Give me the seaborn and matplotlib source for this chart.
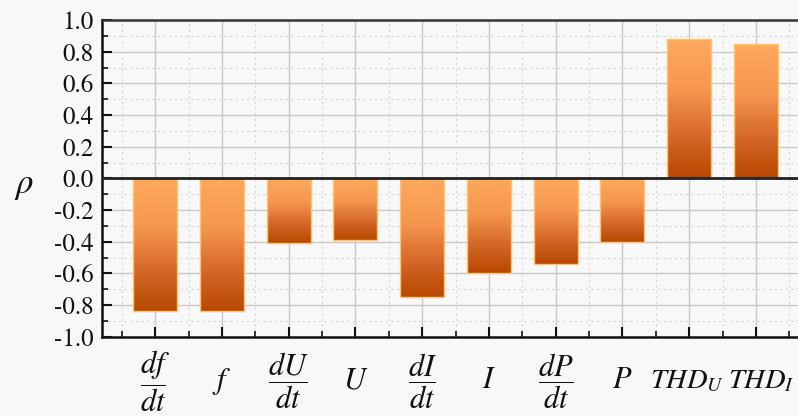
import numpy as np
import pandas as pd
import matplotlib
matplotlib.use('Agg')
import matplotlib.pyplot as plt
import matplotlib.transforms as mtransforms
import seaborn as sns
from matplotlib.colors import LinearSegmentedColormap
from matplotlib.ticker import MultipleLocator, FixedLocator

categories = ['df/dt', 'f', 'dU/dt', 'U', 'dI/dt', 'I', 'dP/dt', 'P', 'THD_U', 'THD_I']
tick_labels = [r'$\dfrac{df}{dt}$', r'$f$', r'$\dfrac{dU}{dt}$', r'$U$',
               r'$\dfrac{dI}{dt}$', r'$I$', r'$\dfrac{dP}{dt}$', r'$P$',
               r'$THD_U$', r'$THD_I$']
rho = [-0.84, -0.84, -0.41, -0.39, -0.75, -0.60, -0.54, -0.40, 0.88, 0.85]
y_ticks = [-1.0, -0.8, -0.6, -0.4, -0.2, 0.0, 0.2, 0.4, 0.6, 0.8, 1.0]

df = pd.DataFrame({'param': categories, 'rho': rho})

sns.set_theme(style='white')
plt.rcParams['mathtext.fontset'] = 'stix'
plt.rcParams['font.family'] = ['STIXGeneral', 'Liberation Serif', 'DejaVu Serif']

bg = '#f8f8f8'
fig = plt.figure(figsize=(7.98, 4.16), dpi=100, facecolor=bg)
ax = fig.add_axes([0.1275, 0.1906, 0.8725, 0.7613])
ax.set_facecolor(bg)

sns.barplot(data=df, x='param', y='rho', order=categories, width=0.66,
            color='#ffa860', edgecolor='#ffc46a', linewidth=1.0, ax=ax, zorder=3)

cmap = LinearSegmentedColormap.from_list(
    'grad', [(0.0, '#b84800'), (0.3, '#d4672a'), (0.62, '#f5964f'), (1.0, '#ffa95f')])
grad = np.linspace(0, 1, 256).reshape(-1, 1)
for p in list(ax.patches):
    x0, y0 = p.get_x(), p.get_y()
    w, h = p.get_width(), p.get_height()
    ylo, yhi = min(y0, y0 + h), max(y0, y0 + h)
    im = ax.imshow(grad, cmap=cmap, origin='lower', aspect='auto',
                   extent=(x0, x0 + w, ylo, yhi), zorder=3, interpolation='bicubic')
    im.set_clip_path(p)
    p.set_facecolor('none')
    p.set_zorder(4)

ax.set_xlim(-0.8, 9.63)
ax.set_ylim(-1.0, 1.0)
ax.set_aspect('auto')

ax.yaxis.set_major_locator(FixedLocator(y_ticks))
ax.yaxis.set_minor_locator(MultipleLocator(0.1))
ax.xaxis.set_minor_locator(FixedLocator(np.arange(-0.5, 10, 1.0)))
ax.set_yticks(y_ticks)
ax.set_yticklabels([f'{v:.1f}' for v in y_ticks])
ax.set_xticks(range(len(categories)))
ax.set_xticklabels(tick_labels)

ax.grid(which='major', color='#c9c9c9', lw=1.0, ls='-', zorder=0)
ax.grid(which='minor', color='#d4d4d4', lw=0.8, ls=(0, (2, 3)), zorder=0)
ax.set_axisbelow(True)

ax.axhline(0, color='#222222', lw=2.0, zorder=5)

ax.tick_params(axis='y', which='major', direction='in', length=7, width=1.5,
               color='#111111', labelsize=18, pad=6, left=True, labelcolor='#111111')
ax.tick_params(axis='y', which='minor', direction='in', length=4, width=1.2,
               color='#111111', left=True)
ax.tick_params(axis='x', which='major', direction='in', length=7, width=1.5,
               color='#111111', labelsize=22, pad=32, bottom=True, labelcolor='#111111')
ax.tick_params(axis='x', which='minor', direction='in', length=4, width=1.2,
               color='#111111', bottom=True)
xlbls = ax.get_xticklabels()
for lbl in xlbls:
    lbl.set_verticalalignment('center')
# THD labels: slightly smaller and nudged apart as in the reference
shifts = {8: -0.02, 9: 0.05}
for i, dx in shifts.items():
    lbl = xlbls[i]
    lbl.set_fontsize(20.5)
    lbl.set_transform(lbl.get_transform() +
                      mtransforms.ScaledTranslation(dx, 0, fig.dpi_scale_trans))
for lbl in ax.get_yticklabels():
    lbl.set_fontfamily(['STIXGeneral', 'Liberation Serif'])

for s in ['left', 'bottom', 'top']:
    ax.spines[s].set_visible(True)
    ax.spines[s].set_color('#111111')
    ax.spines[s].set_linewidth(1.8)
ax.spines['top'].set_color('#333333')
ax.spines['right'].set_visible(False)

ax.set_xlabel('')
ax.set_ylabel('')
fig.text(0.03, 1 - 186 / 416, r'$\rho$', fontsize=25, ha='center', va='center',
         color='#111111')

fig.savefig('out.png', dpi=100, facecolor=bg)
